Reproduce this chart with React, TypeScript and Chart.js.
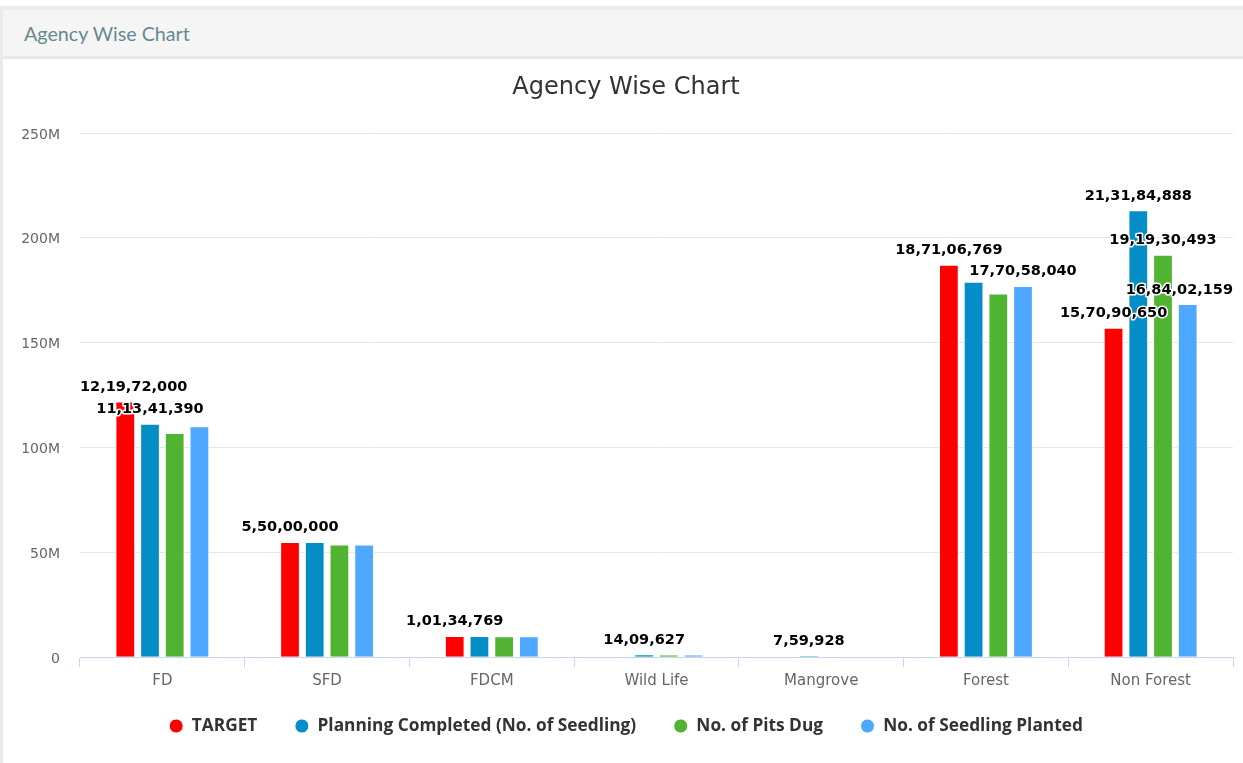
import React, { useEffect, useRef } from "react";
import { Chart, registerables } from "chart.js";

Chart.register(...registerables);

const categories = ["FD", "SFD", "FDCM", "Wild Life", "Mangrove", "Forest", "Non Forest"];
const seriesNames = [
  "TARGET",
  "Planning Completed (No. of Seedling)",
  "No. of Pits Dug",
  "No. of Seedling Planted",
];
const target = [121972000, 55000000, 10134769, 0, 0, 187106769, 157090650];
const planningCompleted = [111341390, 54900000, 10100000, 1409627, 759928, 179000000, 213184888];
const pitsDug = [106900000, 53700000, 10050000, 1300000, null, 173400000, 191930493];
const seedlingPlanted = [110200000, 53700000, 10000000, 1250000, null, 177058040, 168402159];
const seriesColors = ["#ff0000", "#058dc7", "#50b432", "#4fa8ff"];
const yTickValues = [0, 50000000, 100000000, 150000000, 200000000, 250000000];

const LEGEND_FONT = 17.3;
const LEGEND_PAD = 37.5;
const LEGEND_CENTER_Y = 668;

function formatIndian(n: number): string {
  const s = Math.round(n).toString();
  if (s.length <= 3) return s;
  const last3 = s.slice(-3);
  let rest = s.slice(0, -3);
  const parts: string[] = [];
  while (rest.length > 2) {
    parts.unshift(rest.slice(-2));
    rest = rest.slice(0, -2);
  }
  if (rest) parts.unshift(rest);
  return parts.join(",") + "," + last3;
}

const legendPlacePlugin = {
  id: "legendPlace",
  afterLayout(chart: any) {
    const lg = chart.legend;
    if (!lg) return;
    const h = lg.height;
    lg.top = LEGEND_CENTER_Y - LEGEND_PAD - LEGEND_FONT / 2;
    lg.bottom = lg.top + h;
  },
};

const dataLabelPlugin = {
  id: "hcDataLabels",
  afterDatasetsDraw(chart: any) {
    const ctx = chart.ctx;
    const area = chart.chartArea;
    ctx.save();
    ctx.font = 'bold 14.5px "DejaVu Sans"';
    const items: any[] = [];
    chart.data.datasets.forEach((ds: any, di: number) => {
      const meta = chart.getDatasetMeta(di);
      ds.data.forEach((v: number | null, i: number) => {
        if (v === null || v === undefined) return;
        const el = meta.data[i];
        const text = formatIndian(v);
        const w = ctx.measureText(text).width;
        let left = el.x - w / 2;
        if (left < area.left) left = area.left;
        if (left + w > area.right) left = area.right - w;
        const baseline = el.y - 10.5;
        items.push({ text, left, w, baseline, top: baseline - 14, bottom: baseline + 4, rank: v, visible: true });
      });
    });
    const sorted = items.slice().sort((a, b) => b.rank - a.rank);
    for (let i = 0; i < sorted.length; i++) {
      for (let j = i + 1; j < sorted.length; j++) {
        const a = sorted[i];
        const b = sorted[j];
        if (!a.visible || !b.visible) continue;
        const overlap =
          a.left < b.left + b.w && b.left < a.left + a.w && a.top < b.bottom && b.top < a.bottom;
        if (overlap) b.visible = false;
      }
    }
    ctx.textAlign = "left";
    ctx.textBaseline = "alphabetic";
    ctx.lineJoin = "round";
    items.forEach((it) => {
      if (!it.visible) return;
      ctx.strokeStyle = "#ffffff";
      ctx.lineWidth = 3;
      ctx.strokeText(it.text, it.left, it.baseline);
      ctx.fillStyle = "#000000";
      ctx.fillText(it.text, it.left, it.baseline);
    });
    ctx.restore();
  },
};

export default function App() {
  const canvasRef = useRef<HTMLCanvasElement>(null);

  useEffect(() => {
    if (!canvasRef.current) return;
    const values = [target, planningCompleted, pitsDug, seedlingPlanted];
    const chart = new Chart(canvasRef.current, {
      type: "bar",
      data: {
        labels: categories,
        datasets: values.map((d, i) => ({
          label: seriesNames[i],
          data: d,
          backgroundColor: seriesColors[i],
          borderColor: "#ffffff",
          borderWidth: 1,
          categoryPercentage: 0.6,
          barPercentage: 0.8,
          yAxisID: "y",
        })),
      },
      options: {
        responsive: false,
        animation: false,
        layout: { padding: { left: 0, right: 0, top: 0, bottom: 1 } },
        plugins: {
          title: {
            display: true,
            text: "Agency Wise Chart",
            color: "#333333",
            font: { family: '"DejaVu Sans"', size: 24, weight: "normal" },
            padding: { top: 15, bottom: 31.2 },
          },
          legend: {
            position: "bottom",
            labels: {
              usePointStyle: true,
              pointStyle: "circle",
              boxHeight: 10,
              pointStyleWidth: 14,
              padding: LEGEND_PAD,
              color: "#333333",
              font: { family: '"Open Sans"', size: LEGEND_FONT, weight: "bold" },
            },
          },
          tooltip: { enabled: false },
        },
        scales: {
          x: {
            grid: {
              display: true,
              drawOnChartArea: false,
              drawTicks: true,
              tickLength: 10,
              color: "#ccd6eb",
              offset: true,
            },
            border: { display: true, color: "#ccd6eb", width: 1 },
            ticks: {
              color: "#666666",
              font: { family: '"DejaVu Sans"', size: 15 },
              padding: 5,
            },
            afterFit: (scale: any) => {
              scale.height = 40;
            },
          },
          y: {
            min: 0,
            max: 250000000,
            afterBuildTicks: (scale: any) => {
              scale.ticks = yTickValues.map((v) => ({ value: v }));
            },
            grid: { color: "#e6e6e6", lineWidth: 1, drawTicks: false },
            border: { display: false },
            ticks: {
              color: "#666666",
              font: { family: '"DejaVu Sans"', size: 14 },
              padding: 20,
              labelOffset: 2,
              callback: (v: any) => (Number(v) === 0 ? "0" : Number(v) / 1000000 + "M"),
            },
            afterFit: (scale: any) => {
              scale.width = 77;
            },
          },
          yRight: {
            type: "linear",
            position: "right",
            display: true,
            grid: { display: false, drawTicks: false },
            border: { display: false },
            ticks: { display: false },
            afterFit: (scale: any) => {
              scale.width = 16;
            },
          },
        },
      },
      plugins: [dataLabelPlugin, legendPlacePlugin],
    });
    return () => chart.destroy();
  }, []);

  return (
    <div style={{ position: "relative", width: 1243, height: 763, overflow: "hidden", background: "#ffffff" }}>
      <style>{`body{margin:0;}`}</style>
      <div
        style={{
          position: "absolute",
          left: 0,
          top: 6,
          width: 1300,
          height: 800,
          borderLeft: "3px solid #ebebeb",
          borderTop: "4px solid #ebebeb",
          boxSizing: "border-box",
          background: "#ffffff",
        }}
      >
        <div
          style={{
            height: 45,
            background: "#f5f5f5",
            borderBottom: "3px solid #e8e8e8",
            boxSizing: "content-box",
            display: "flex",
            alignItems: "center",
            paddingLeft: 21,
            paddingTop: 1,
            fontFamily: "Lato, sans-serif",
            fontSize: 19.7,
            color: "#658a8f",
          }}
        >
          Agency Wise Chart
        </div>
      </div>
      <canvas
        ref={canvasRef}
        width={1246}
        height={705}
        style={{ position: "absolute", left: 3, top: 58, width: 1246, height: 705 }}
      />
    </div>
  );
}
